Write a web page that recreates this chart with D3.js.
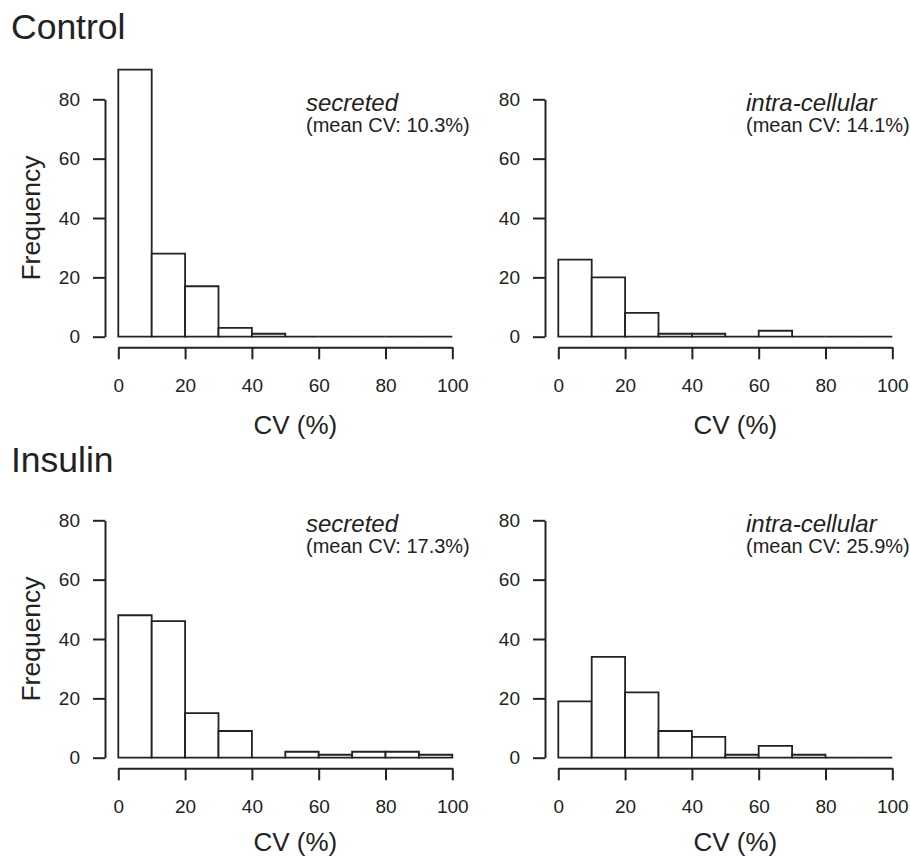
<!DOCTYPE html>
<meta charset="utf-8">
<script src="https://d3js.org/d3.v7.min.js"></script>
<style>
  body { margin: 0; background: #fff; }
  text { font-family: "Liberation Sans", Arial, Helvetica, sans-serif; fill: #222; }
</style>
<div id="dataviz"></div>
<script>
// bin edges (CV %) and counts per bin
const binEdges = [0, 10, 20, 30, 40, 50, 60, 70, 80, 90, 100];
const controlSecreted = [90, 28, 17, 3, 1, 0, 0, 0, 0, 0];
const controlIntra    = [26, 20, 8, 1, 1, 0, 2, 0, 0, 0];
const insulinSecreted = [48, 46, 15, 9, 0, 2, 1, 2, 2, 1];
const insulinIntra    = [19, 34, 22, 9, 7, 1, 4, 1, 0, 0];

const xTicks = [0, 20, 40, 60, 80, 100];
const yTicks = [0, 20, 40, 60, 80];
const groupTitles = ["Control", "Insulin"];
const panelTitles = ["secreted", "intra-cellular"];
const meanLabels = ["(mean CV: 10.3%)", "(mean CV: 14.1%)", "(mean CV: 17.3%)", "(mean CV: 25.9%)"];

const panels = [
  {counts: controlSecreted, row: 0, col: 0},
  {counts: controlIntra,    row: 0, col: 1},
  {counts: insulinSecreted, row: 1, col: 0},
  {counts: insulinIntra,    row: 1, col: 1}
];

const W = 910, H = 859;
const svg = d3.select("#dataviz").append("svg")
    .attr("width", W).attr("height", H);

// group titles
svg.append("text").attr("x", 11).attr("y", 39).attr("font-size", 35.5).text(groupTitles[0]);
svg.append("text").attr("x", 11).attr("y", 472).attr("font-size", 35.5).text(groupTitles[1]);

const stroke = "#222";

panels.forEach(function (p, i) {
  const dx = p.col * 440, dy = p.row * 421;

  const x = d3.scaleLinear().domain([0, 100]).range([118.3 + dx, 452.3 + dx]);
  const y = d3.scaleLinear().domain([0, 80]).range([336.7 + dy, 99.3 + dy]);

  const bins = p.counts.map(function (c, j) {
    return {x0: binEdges[j], x1: binEdges[j + 1], n: c};
  });

  // bars (paths so that empty bins still show as a flat line)
  svg.append("g").selectAll("path")
    .data(bins)
    .enter().append("path")
      .attr("d", function (d) {
        return "M" + x(d.x0) + "," + y(0) + "V" + y(d.n) + "H" + x(d.x1) + "V" + y(0) + "Z";
      })
      .attr("fill", "#fff")
      .attr("stroke", stroke)
      .attr("stroke-width", 1.8);

  // y axis
  const gy = svg.append("g")
    .attr("transform", "translate(" + (105 + dx) + ",0)")
    .call(d3.axisLeft(y).tickValues(yTicks).tickSize(12).tickSizeOuter(0).tickPadding(13));
  // x axis
  const gx = svg.append("g")
    .attr("transform", "translate(0," + (347.3 + dy) + ")")
    .call(d3.axisBottom(x).tickValues(xTicks).tickSize(12).tickSizeOuter(0).tickPadding(19));

  [gx, gy].forEach(function (g) {
    g.attr("font-family", null).attr("font-size", null);
    g.selectAll("path, line").attr("stroke", stroke).attr("stroke-width", 2);
    g.selectAll("text").attr("font-size", 19).attr("fill", "#222");
  });

  // x label
  svg.append("text")
    .attr("x", x(50) + 10).attr("y", 434 + p.row * 417)
    .attr("text-anchor", "middle")
    .attr("font-size", 26)
    .text("CV (%)");

  // y label on left panels
  if (p.col === 0) {
    svg.append("text")
      .attr("transform", "translate(40," + (218 + dy) + ") rotate(-90)")
      .attr("text-anchor", "middle")
      .attr("font-size", 26.5)
      .text("Frequency");
  }

  // annotation
  svg.append("text")
    .attr("x", x(56.2)).attr("y", 111 + dy)
    .attr("font-size", 24).attr("font-style", "italic")
    .text(panelTitles[p.col]);
  svg.append("text")
    .attr("x", x(56.2)).attr("y", 132 + dy)
    .attr("font-size", 20)
    .text(meanLabels[i]);
});
</script>
